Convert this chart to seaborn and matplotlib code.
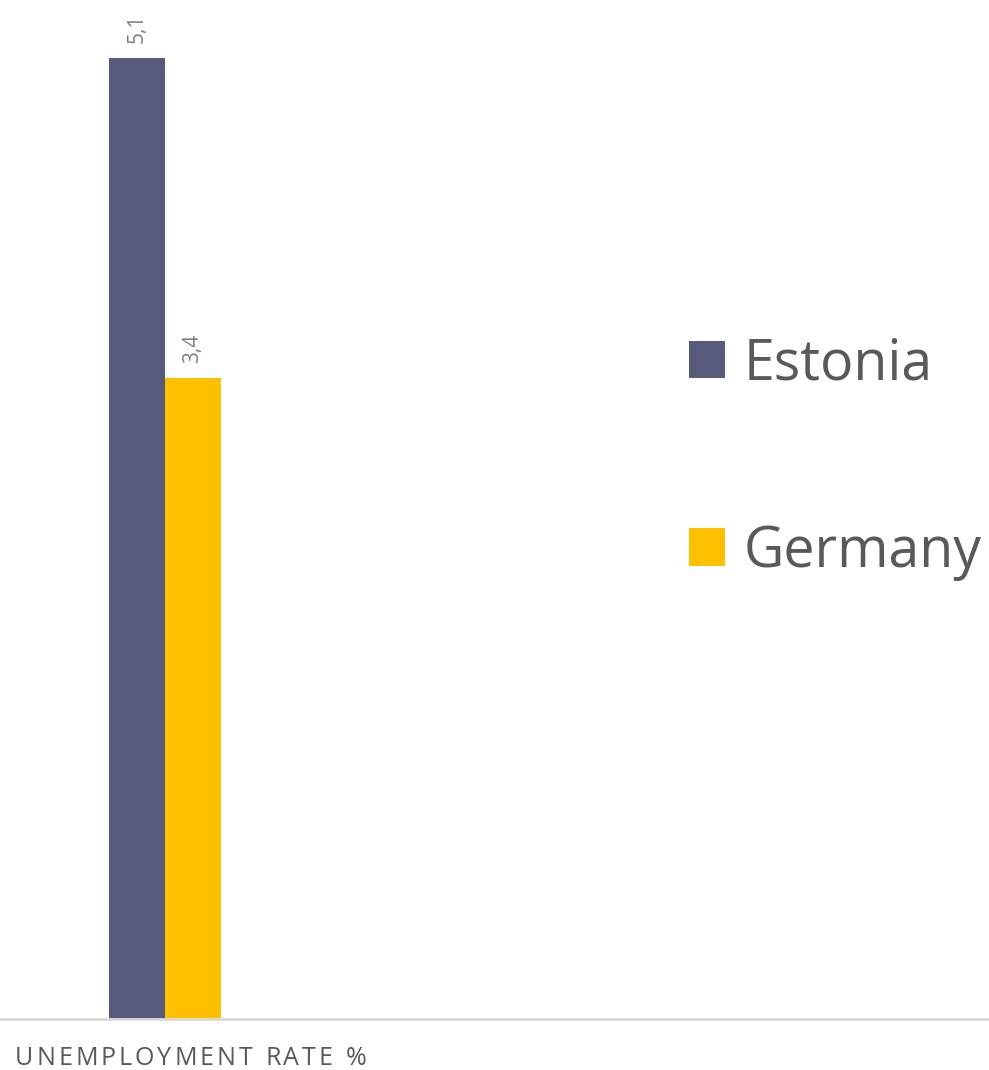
import matplotlib
matplotlib.use("Agg")
import matplotlib.pyplot as plt
import seaborn as sns
import pandas as pd
from matplotlib.patches import Patch

# ---- data ----
category = ["UNEMPLOYMENT RATE %"]
countries = ["Estonia", "Germany"]
values = [5.1, 3.4]
value_labels = ["5,1", "3,4"]
colors = ["#575A7B", "#FFC000"]

df = pd.DataFrame({"category": category * len(countries),
                   "country": countries,
                   "value": values})

sns.set_theme(style="white")
plt.rcParams["font.family"] = ["Open Sans", "DejaVu Sans"]

W, H = 989, 1070
fig = plt.figure(figsize=(W / 100, H / 100), dpi=100)
base_y = 1019
ax = fig.add_axes([0, (H - base_y) / H, 1, base_y / H])

sns.barplot(data=df, x="category", y="value", hue="country",
            palette=colors, ax=ax, saturation=1, legend=False,
            edgecolor="none", linewidth=0)

px_per_unit = 140.0
center_px = 165
ax.set_xlim(-center_px / px_per_unit, (W - center_px) / px_per_unit)
ax.set_ylim(0, base_y / 188.4)

for cont, lab in zip(ax.containers, value_labels):
    ax.bar_label(cont, labels=[lab], rotation=90, padding=11,
                 fontsize=15, color="#7F7F7F")

for s in ["top", "right", "left"]:
    ax.spines[s].set_visible(False)
ax.spines["bottom"].set_color("#D9D9D9")
ax.spines["bottom"].set_linewidth(2)
ax.set_xticks([])
ax.set_yticks([])
ax.set_xlabel("")
ax.set_ylabel("")

handles = [Patch(facecolor=c, edgecolor="none", label=n) for c, n in zip(colors, countries)]
leg = fig.legend(handles=handles, loc="upper left",
                 bbox_to_anchor=(689 / W, 1 - 336 / H),
                 frameon=False, fontsize=40, labelcolor="#595959",
                 handlelength=0.65, handleheight=0.65, handletextpad=0.33,
                 labelspacing=2.35, borderpad=0, borderaxespad=0)

# category label with letter spacing
fig.canvas.draw()
renderer = fig.canvas.get_renderer()
x = 15
tracking = 3.0
for ch in category[0]:
    t = fig.text(x / W, 1 - 1065 / H, ch, fontsize=18, color="#595959",
                 ha="left", va="baseline")
    if ch == " ":
        w = 18 * 100 / 72 * 0.26
    else:
        w = t.get_window_extent(renderer).width
    x += w + tracking

fig.savefig("out.png", dpi=100)
